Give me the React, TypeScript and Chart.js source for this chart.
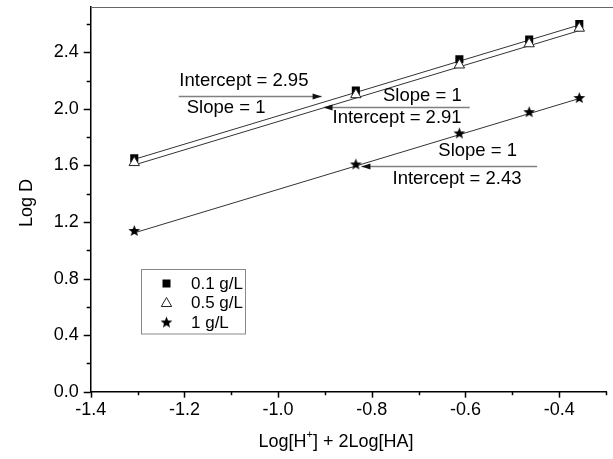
import React, { useEffect, useRef } from 'react';
import { Chart, registerables } from 'chart.js';

Chart.register(...registerables);

// ---- data ----
const xValues = [-1.307, -0.834, -0.613, -0.464, -0.357];
const logD01 = [1.65, 2.13, 2.35, 2.49, 2.6];
const logD05 = [1.62, 2.1, 2.31, 2.46, 2.57];
const logD1 = [1.14, 1.61, 1.83, 1.98, 2.08];
const seriesLabels = ['0.1 g/L', '0.5 g/L', '1 g/L'];

// fitted lines (slope = 1) endpoints
const fitX = [-1.307, -0.357];
const fit01 = [1.643, 2.593];
const fit05 = [1.603, 2.553];
const fit1 = [1.123, 2.073];

const xTicks = [-1.4, -1.3, -1.2, -1.1, -1.0, -0.9, -0.8, -0.7, -0.6, -0.5, -0.4, -0.3];
const yTicks = [0, 0.2, 0.4, 0.6, 0.8, 1.0, 1.2, 1.4, 1.6, 1.8, 2.0, 2.2, 2.4, 2.6];

const annotationTexts = [
  ['Intercept = 2.95', 'Slope = 1'],
  ['Slope = 1', 'Intercept = 2.91'],
  ['Slope = 1', 'Intercept = 2.43'],
];

const FONT = '"Liberation Sans", Arial, sans-serif';

function makeStar(size: number, color: string) {
  const c = document.createElement('canvas');
  c.width = size;
  c.height = size;
  const g = c.getContext('2d')!;
  const cx = size / 2;
  const R = size / 2 - 0.3;
  const r = R * 0.42;
  g.beginPath();
  for (let i = 0; i < 10; i++) {
    const a = -Math.PI / 2 + (i * Math.PI) / 5;
    const rad = i % 2 ? r : R;
    const px = cx + rad * Math.cos(a);
    const py = cx + 0.6 + rad * Math.sin(a);
    if (i === 0) g.moveTo(px, py);
    else g.lineTo(px, py);
  }
  g.closePath();
  g.fillStyle = color;
  g.fill();
  return c;
}

function pts(xs: number[], ys: number[]) {
  return xs.map((x, i) => ({ x, y: ys[i] }));
}

export default function App() {
  const ref = useRef<HTMLCanvasElement>(null);

  useEffect(() => {
    const canvas = ref.current!;
    const star = makeStar(13, '#000');

    const drawTriangle = (ctx: CanvasRenderingContext2D, x: number, y: number, r: number) => {
      ctx.beginPath();
      ctx.moveTo(x, y - r);
      ctx.lineTo(x + r * 0.866, y + r * 0.5);
      ctx.lineTo(x - r * 0.866, y + r * 0.5);
      ctx.closePath();
      ctx.fillStyle = '#fff';
      ctx.fill();
      ctx.strokeStyle = '#222';
      ctx.lineWidth = 1;
      ctx.stroke();
    };

    const overlay = {
      id: 'overlay',
      afterDraw(chart: any) {
        const ctx: CanvasRenderingContext2D = chart.ctx;
        const xs = chart.scales.x;
        const ys = chart.scales.y;
        const area = chart.chartArea;
        ctx.save();

        // top frame line
        ctx.strokeStyle = '#666';
        ctx.lineWidth = 1.2;
        ctx.beginPath();
        ctx.moveTo(area.left, Math.round(area.top) + 0.5);
        ctx.lineTo(613, Math.round(area.top) + 0.5);
        ctx.stroke();

        // tick marks
        ctx.strokeStyle = '#000';
        ctx.lineWidth = 1.5;
        xTicks.forEach((v) => {
          const major = Math.round(v * 10) % 2 === 0;
          const px = Math.round(xs.getPixelForValue(v)) + 0.5;
          ctx.beginPath();
          ctx.moveTo(px, area.bottom);
          ctx.lineTo(px, area.bottom + (major ? 6 : 3.5));
          ctx.stroke();
        });
        yTicks.forEach((v) => {
          const major = Math.round(v * 10) % 4 === 0;
          const py = Math.round(ys.getPixelForValue(v)) + 0.5;
          ctx.beginPath();
          ctx.moveTo(area.left, py);
          ctx.lineTo(area.left - (major ? 7 : 4), py);
          ctx.stroke();
        });

        // annotations
        const arrows = [
          { x1: -1.212, x2: -0.907, y: 2.091, tipRight: true, t1: [-1.073, 2.194], t2: [-1.111, 2.006] },
          { x1: -0.903, x2: -0.591, y: 2.011, tipRight: false, t1: [-0.692, 2.088], t2: [-0.746, 1.936] },
          { x1: -0.822, x2: -0.447, y: 1.596, tipRight: false, t1: [-0.574, 1.701], t2: [-0.618, 1.503] },
        ];
        arrows.forEach((a, i) => {
          const px1 = xs.getPixelForValue(a.x1);
          const px2 = xs.getPixelForValue(a.x2);
          const py = Math.round(ys.getPixelForValue(a.y)) + 0.5;
          ctx.strokeStyle = '#808080';
          ctx.lineWidth = 1.5;
          ctx.beginPath();
          ctx.moveTo(px1, py);
          ctx.lineTo(px2, py);
          ctx.stroke();
          ctx.fillStyle = '#111';
          ctx.beginPath();
          if (a.tipRight) {
            ctx.moveTo(px2, py);
            ctx.lineTo(px2 - 9, py - 3);
            ctx.lineTo(px2 - 9, py + 3);
          } else {
            ctx.moveTo(px1, py);
            ctx.lineTo(px1 + 9, py - 3);
            ctx.lineTo(px1 + 9, py + 3);
          }
          ctx.closePath();
          ctx.fill();
          ctx.fillStyle = '#000';
          ctx.font = '18.5px ' + FONT;
          ctx.textAlign = 'center';
          ctx.textBaseline = 'middle';
          ctx.fillText(annotationTexts[i][0], xs.getPixelForValue(a.t1[0]), ys.getPixelForValue(a.t1[1]));
          ctx.fillText(annotationTexts[i][1], xs.getPixelForValue(a.t2[0]), ys.getPixelForValue(a.t2[1]));
        });

        // legend
        const lx = 141.5, ly = 269.5, lw = 104, lh = 64.5;
        ctx.strokeStyle = '#888';
        ctx.lineWidth = 1;
        ctx.strokeRect(lx, ly, lw, lh);
        const rows = [283.5, 302.5, 322];
        const sx = 166.5;
        ctx.fillStyle = '#000';
        ctx.fillRect(sx - 4, rows[0] - 4, 8, 8);
        drawTriangle(ctx, sx, rows[1] + 1, 6);
        ctx.drawImage(star, sx - 6.5, rows[2] - 6.5);
        ctx.fillStyle = '#000';
        ctx.font = '17px ' + FONT;
        ctx.textAlign = 'left';
        ctx.textBaseline = 'middle';
        seriesLabels.forEach((t, i) => ctx.fillText(t, 191, rows[i] + 1));

        // axis titles
        ctx.font = '18px ' + FONT;
        ctx.textBaseline = 'middle';
        ctx.save();
        ctx.translate(27, 203);
        ctx.rotate(-Math.PI / 2);
        ctx.textAlign = 'center';
        ctx.fillText('Log D', 0, 0);
        ctx.restore();

        const p1 = 'Log[H';
        const sup = '+';
        const p2 = '] + 2Log[HA]';
        ctx.font = '18px ' + FONT;
        const w1 = ctx.measureText(p1).width;
        const w3 = ctx.measureText(p2).width;
        ctx.font = '11px ' + FONT;
        const w2 = ctx.measureText(sup).width;
        const total = w1 + w2 + w3;
        let cx = 336 - total / 2;
        const ty = 442;
        ctx.textAlign = 'left';
        ctx.font = '18px ' + FONT;
        ctx.fillText(p1, cx, ty);
        cx += w1;
        ctx.font = '11px ' + FONT;
        ctx.fillText(sup, cx, ty - 7);
        cx += w2;
        ctx.font = '18px ' + FONT;
        ctx.fillText(p2, cx, ty);

        ctx.restore();
      },
    };

    const chart = new Chart(canvas, {
      type: 'scatter',
      data: {
        datasets: [
          {
            label: seriesLabels[1],
            data: pts(xValues, logD05),
            pointStyle: 'triangle',
            pointRadius: 6,
            pointBackgroundColor: '#fff',
            pointBorderColor: '#222',
            pointBorderWidth: 1,
            order: 0,
          },
          {
            label: seriesLabels[0],
            data: pts(xValues, logD01),
            pointStyle: 'rect',
            pointRadius: 5.7,
            pointBackgroundColor: '#000',
            pointBorderColor: '#000',
            pointBorderWidth: 0,
            order: 1,
          },
          {
            label: seriesLabels[2],
            data: pts(xValues, logD1),
            pointStyle: star as any,
            pointRadius: 6,
            order: 2,
          },
          {
            label: 'fit01',
            data: pts(fitX, fit01),
            showLine: true,
            pointRadius: 0,
            borderColor: '#333',
            borderWidth: 1,
            order: 3,
          },
          {
            label: 'fit05',
            data: pts(fitX, fit05),
            showLine: true,
            pointRadius: 0,
            borderColor: '#333',
            borderWidth: 1,
            order: 4,
          },
          {
            label: 'fit1',
            data: pts(fitX, fit1),
            showLine: true,
            pointRadius: 0,
            borderColor: '#333',
            borderWidth: 1,
            order: 5,
          },
        ],
      },
      options: {
        responsive: false,
        animation: false,
        layout: { padding: { top: 5, right: 0, left: 0, bottom: 0 } },
        plugins: {
          legend: { display: false },
          tooltip: { enabled: false },
        },
        scales: {
          x: {
            type: 'linear',
            min: -1.4,
            max: -0.3,
            afterBuildTicks: (s: any) => {
              s.ticks = xTicks.map((v) => ({ value: v }));
            },
            afterFit: (s: any) => {
              s.height = 67.3;
              s.paddingLeft = 0;
              s.paddingRight = 0;
            },
            ticks: {
              autoSkip: false,
              maxRotation: 0,
              padding: 8,
              color: '#000',
              font: { size: 18, family: FONT },
              callback: (v: any) => (Math.round(Number(v) * 10) % 2 === 0 && Number(v) < -0.35 ? Number(v).toFixed(1) : ''),
            },
            grid: { display: false, drawTicks: false },
            border: { display: true, color: '#000', width: 1.5 },
          },
          y: {
            type: 'linear',
            min: 0,
            max: 2.72,
            afterBuildTicks: (s: any) => {
              s.ticks = yTicks.map((v) => ({ value: v }));
            },
            afterFit: (s: any) => {
              s.width = 90.7;
              s.paddingTop = 0;
              s.paddingBottom = 0;
            },
            ticks: {
              autoSkip: false,
              padding: 12,
              color: '#000',
              font: { size: 18, family: FONT },
              callback: (v: any) => (Math.round(Number(v) * 10) % 4 === 0 ? Number(v).toFixed(1) : ''),
            },
            grid: { display: false, drawTicks: false },
            border: { display: true, color: '#000', width: 1.5 },
          },
        },
      },
      plugins: [overlay],
    });

    return () => chart.destroy();
  }, []);

  return (
    <div style={{ position: 'fixed', left: 0, top: 0, width: 613, height: 459, background: '#fff' }}>
      <canvas ref={ref} width={613} height={459} style={{ display: 'block' }} />
    </div>
  );
}
